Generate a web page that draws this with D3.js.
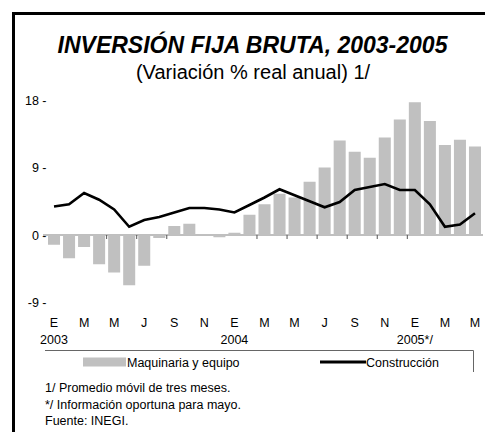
<!DOCTYPE html>
<html>
<head>
<meta charset="utf-8">
<script src="https://cdn.jsdelivr.net/npm/d3@7"></script>
<style>
  html, body { margin: 0; padding: 0; background: #fff; }
  svg { display: block; font-family: "Liberation Sans", Arial, sans-serif; }
</style>
</head>
<body>
<svg id="chart" width="485" height="432"></svg>
<script>
// ---- Data ----
const months = ["E","F","M","A","M","J","J","A","S","O","N","D",
                "E","F","M","A","M","J","J","A","S","O","N","D",
                "E","F","M","A","M"];
const monthLabelIndex = [0,2,4,6,8,10,12,14,16,18,20,22,24,26,28];
const yearLabels = [{i:0, t:"2003"}, {i:12, t:"2004"}, {i:24, t:"2005*/"}];
const maquinaria = [-1.3,-3.1,-1.6,-3.9,-5.0,-6.7,-4.1,-0.4,1.2,1.5,0.05,-0.3,
                    0.3,2.7,4.1,5.5,5.0,7.1,9.0,12.6,11.1,10.3,13.0,15.4,
                    17.7,15.2,12.0,12.7,11.8];
const construccion = [3.8,4.1,5.6,4.7,3.4,1.1,2.0,2.4,3.0,3.6,3.6,3.4,
                      3.0,4.0,5.0,6.1,5.3,4.5,3.7,4.4,6.0,6.4,6.8,6.0,
                      6.0,4.1,1.1,1.4,2.9];
const yTicks = [18, 9, 0, -9];
const tickBoundaries = [4,6,8,14,16,18,20,22,24];
const footnotes = ["1/ Promedio móvil de tres meses.",
                   "*/ Información oportuna para mayo.",
                   "Fuente: INEGI."];
const legendLabels = ["Maquinaria y equipo", "Construcción"];

// ---- Drawing ----
const svg = d3.select("#chart");
const barColor = "#c0c0c0";

// frame
svg.append("path")
  .attr("d", "M13.5,440 L13.5,13.5 L490,13.5")
  .attr("fill", "none").attr("stroke", "#000").attr("stroke-width", 3);

// title
svg.append("text").attr("x", 252.5).attr("y", 53)
  .attr("text-anchor", "middle")
  .attr("font-size", 23).attr("font-weight", "bold").attr("font-style", "italic")
  .text("INVERSIÓN FIJA BRUTA, 2003-2005");
svg.append("text").attr("x", 253).attr("y", 79)
  .attr("text-anchor", "middle").attr("font-size", 20)
  .text("(Variación % real anual) 1/");

const x = d3.scaleBand().domain(d3.range(months.length))
  .range([46.5, 482.5]).paddingInner(0.2).paddingOuter(0.1);
const y = d3.scaleLinear().domain([-9, 18]).range([302.5, 100]);
const step = x.step();
const edge = i => x(i) - (step - x.bandwidth()) / 2;

// y tick labels
svg.append("g").selectAll("text").data(yTicks).join("text")
  .attr("x", 46.5).attr("y", d => y(d) + 4.5)
  .attr("text-anchor", "end").attr("font-size", 12.5)
  .text(d => d + " -");

// axis line + ticks
svg.append("line")
  .attr("x1", 43).attr("x2", 483).attr("y1", y(0)).attr("y2", y(0))
  .attr("stroke", "#808080").attr("stroke-width", 1.2);
svg.append("g").selectAll("line").data(tickBoundaries).join("line")
  .attr("x1", d => edge(d)).attr("x2", d => edge(d))
  .attr("y1", y(0)).attr("y2", y(0) + 4)
  .attr("stroke", "#555").attr("stroke-width", 1);

// bars
svg.append("g").selectAll("rect").data(maquinaria).join("rect")
  .attr("x", (d, i) => x(i)).attr("width", x.bandwidth())
  .attr("y", d => y(Math.max(0, d)))
  .attr("height", d => Math.abs(y(d) - y(0)))
  .attr("fill", barColor);

// line
const line = d3.line().x((d, i) => x(i) + x.bandwidth() / 2).y(d => y(d));
svg.append("path").datum(construccion)
  .attr("d", line).attr("fill", "none")
  .attr("stroke", "#000").attr("stroke-width", 2.6)
  .attr("stroke-linejoin", "miter");

// month labels
svg.append("g").selectAll("text").data(monthLabelIndex).join("text")
  .attr("x", d => x(d) + x.bandwidth() / 2).attr("y", 327)
  .attr("text-anchor", "middle").attr("font-size", 12.5)
  .text(d => months[d]);
svg.append("g").selectAll("text").data(yearLabels).join("text")
  .attr("x", d => x(d.i) + x.bandwidth() / 2).attr("y", 344)
  .attr("text-anchor", "middle").attr("font-size", 12.5)
  .text(d => d.t);

// legend box lines
svg.append("path")
  .attr("d", "M45,350.5 L473.5,350.5 L473.5,372")
  .attr("fill", "none").attr("stroke", "#666").attr("stroke-width", 1);
svg.append("rect").attr("x", 83).attr("y", 357.5).attr("width", 43).attr("height", 9)
  .attr("fill", barColor);
svg.append("text").attr("x", 127).attr("y", 366.5).attr("font-size", 12.5)
  .text(legendLabels[0]);
svg.append("line").attr("x1", 320).attr("x2", 366).attr("y1", 362).attr("y2", 362)
  .attr("stroke", "#000").attr("stroke-width", 3);
svg.append("text").attr("x", 366).attr("y", 366.5).attr("font-size", 12.5)
  .text(legendLabels[1]);

// footnotes
svg.append("g").selectAll("text").data(footnotes).join("text")
  .attr("x", 45).attr("y", (d, i) => 392 + i * 16.5)
  .attr("font-size", 12.5)
  .text(d => d);
</script>
</body>
</html>
